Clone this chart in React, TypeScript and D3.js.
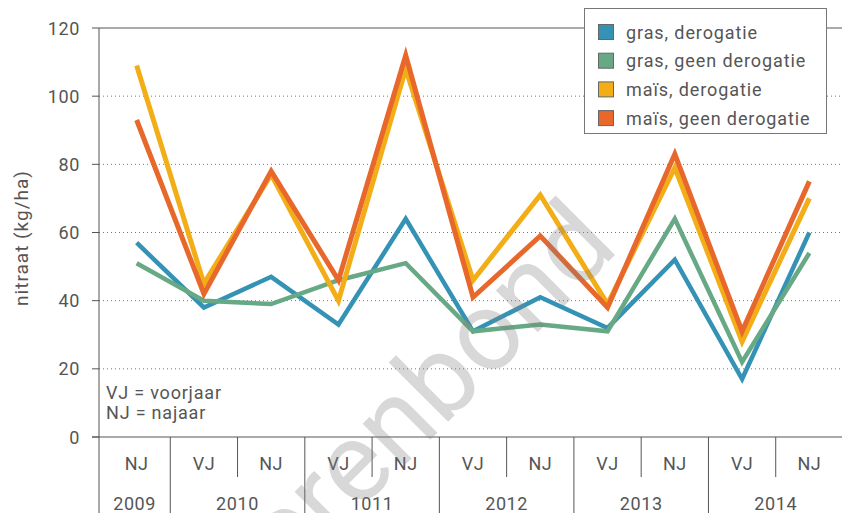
import React, { useRef, useEffect } from 'react';
import * as d3 from 'd3';

// categories along the x axis (season per point)
const seasons = ['NJ', 'VJ', 'NJ', 'VJ', 'NJ', 'VJ', 'NJ', 'VJ', 'NJ', 'VJ', 'NJ'];
const yearLabels = ['2009', '2010', '1011', '2012', '2013', '2014'];
const yearSpans = [1, 2, 2, 2, 2, 2];

const seriesNames = ['gras, derogatie', 'gras, geen derogatie', 'maïs, derogatie', 'maïs, geen derogatie'];
const seriesColors = ['#3493b4', '#67a985', '#f2ad17', '#e8672a'];

const grasDerogatie = [57, 38, 47, 33, 64, 31, 41, 32, 52, 17, 60];
const grasGeenDerogatie = [51, 40, 39, 46, 51, 31, 33, 31, 64, 22, 54];
const maisDerogatie = [109, 45, 77, 40, 108, 46, 71, 39, 79, 28, 70];
const maisGeenDerogatie = [93, 42, 78, 46, 112, 41, 59, 38, 83, 31, 75];

const yTicks = [0, 20, 40, 60, 80, 100, 120];

export default function App() {
  const svgRef = useRef<SVGSVGElement>(null);

  useEffect(() => {
    if (!svgRef.current) return;
    const width = 842;
    const height = 513;
    const font = 'Roboto, "DejaVu Sans", sans-serif';
    const textColor = '#555';

    const svg = d3.select(svgRef.current);
    svg.selectAll('*').remove();

    const axisX = 99;
    const x = d3.scaleBand<number>().domain(d3.range(seasons.length)).range([103, 843]);
    const bw = x.bandwidth();
    const cx = (i: number) => (x(i) as number) + bw / 2;
    const y = d3.scaleLinear().domain([0, 120]).range([437, 28]);

    const g = svg.append('g');

    // grid lines
    yTicks.forEach((t) => {
      if (t === 0) return;
      g.append('line')
        .attr('x1', axisX).attr('x2', width)
        .attr('y1', y(t)).attr('y2', y(t))
        .attr('stroke', t === 120 ? '#555' : '#777')
        .attr('stroke-width', 1)
        .attr('stroke-dasharray', t === 120 ? null : '1,3');
    });

    // y ticks + labels
    yTicks.forEach((t) => {
      g.append('line')
        .attr('x1', 92).attr('x2', axisX)
        .attr('y1', y(t)).attr('y2', y(t))
        .attr('stroke', '#555');
      g.append('text')
        .attr('x', 80)
        .attr('y', y(t))
        .attr('text-anchor', 'end')
        .attr('dominant-baseline', 'central')
        .attr('fill', textColor)
        .attr('font-family', font)
        .attr('font-size', '18px')
        .attr('letter-spacing', '0.6px')
        .text(t);
    });

    g.append('text')
      .attr('transform', `translate(21,238) rotate(-90)`)
      .attr('text-anchor', 'middle')
      .attr('dominant-baseline', 'central')
      .attr('fill', textColor)
      .attr('font-family', font)
      .attr('font-size', '19px')
      .attr('letter-spacing', '1px')
      .text('nitraat (kg/ha)');

    // note
    ['VJ = voorjaar', 'NJ = najaar'].forEach((s, i) => {
      g.append('text')
        .attr('x', 106)
        .attr('y', 392 + i * 20)
        .attr('dominant-baseline', 'central')
        .attr('fill', textColor)
        .attr('font-family', font)
        .attr('font-size', '18px')
        .attr('letter-spacing', '0.8px')
        .text(s);
    });

    // x category axis
    g.append('line')
      .attr('x1', 92).attr('x2', width)
      .attr('y1', y(0)).attr('y2', y(0))
      .attr('stroke', '#555');
    g.append('line')
      .attr('x1', axisX).attr('x2', axisX)
      .attr('y1', y(120)).attr('y2', height)
      .attr('stroke', '#555');

    const yearStarts: number[] = [];
    let acc = 0;
    yearSpans.forEach((s) => { yearStarts.push(acc); acc += s; });

    seasons.forEach((s, i) => {
      if (i > 0) {
        const isYearEdge = yearStarts.includes(i);
        g.append('line')
          .attr('x1', x(i) as number).attr('x2', x(i) as number)
          .attr('y1', y(0)).attr('y2', isYearEdge ? height : 477)
          .attr('stroke', '#555');
      }
      g.append('text')
        .attr('x', cx(i))
        .attr('y', 463)
        .attr('text-anchor', 'middle')
        .attr('dominant-baseline', 'central')
        .attr('fill', textColor)
        .attr('font-family', font)
        .attr('font-size', '18px')
        .attr('letter-spacing', '0.5px')
        .text(s);
    });

    yearLabels.forEach((lab, k) => {
      const start = yearStarts[k];
      const end = start + yearSpans[k] - 1;
      const left = k === 0 ? axisX : (x(start) as number);
      const right = (x(end) as number) + bw;
      g.append('text')
        .attr('x', (left + right) / 2)
        .attr('y', 503)
        .attr('text-anchor', 'middle')
        .attr('dominant-baseline', 'central')
        .attr('fill', textColor)
        .attr('font-family', font)
        .attr('font-size', '18px')
        .attr('letter-spacing', '0.6px')
        .text(lab);
    });

    // series lines
    const allSeries = [grasDerogatie, grasGeenDerogatie, maisDerogatie, maisGeenDerogatie];
    const widths = [4.5, 4.5, 5, 5];
    const line = d3.line<number>()
      .x((_, i) => cx(i))
      .y((d) => y(d));

    allSeries.forEach((vals, k) => {
      g.append('path')
        .datum(vals)
        .attr('fill', 'none')
        .attr('stroke', seriesColors[k])
        .attr('stroke-width', widths[k])
        .attr('stroke-linejoin', 'miter')
        .attr('d', line);
    });

    // legend
    const lg = svg.append('g');
    lg.append('rect')
      .attr('x', 584.5).attr('y', 8.5)
      .attr('width', 242).attr('height', 125)
      .attr('fill', '#fff')
      .attr('stroke', '#777');
    seriesNames.forEach((name, k) => {
      const ly = 32 + k * 28.7;
      lg.append('rect')
        .attr('x', 598.5).attr('y', ly - 7.5)
        .attr('width', 15).attr('height', 15)
        .attr('fill', seriesColors[k])
        .attr('stroke', '#666');
      lg.append('text')
        .attr('x', 626)
        .attr('y', ly)
        .attr('dominant-baseline', 'central')
        .attr('fill', textColor)
        .attr('font-family', font)
        .attr('font-size', '18px')
        .attr('letter-spacing', '0.9px')
        .text(name);
    });

    // watermark
    svg.append('text')
      .attr('transform', 'translate(410,460) rotate(-45)')
      .attr('text-anchor', 'middle')
      .attr('fill', '#808080')
      .attr('opacity', 0.3)
      .attr('font-family', font)
      .attr('font-size', '112px')
      .text('boerenbond');
  }, []);

  return (
    <svg
      ref={svgRef}
      width={842}
      height={513}
      style={{ position: 'absolute', left: 0, top: 0, background: '#fff' }}
    />
  );
}
